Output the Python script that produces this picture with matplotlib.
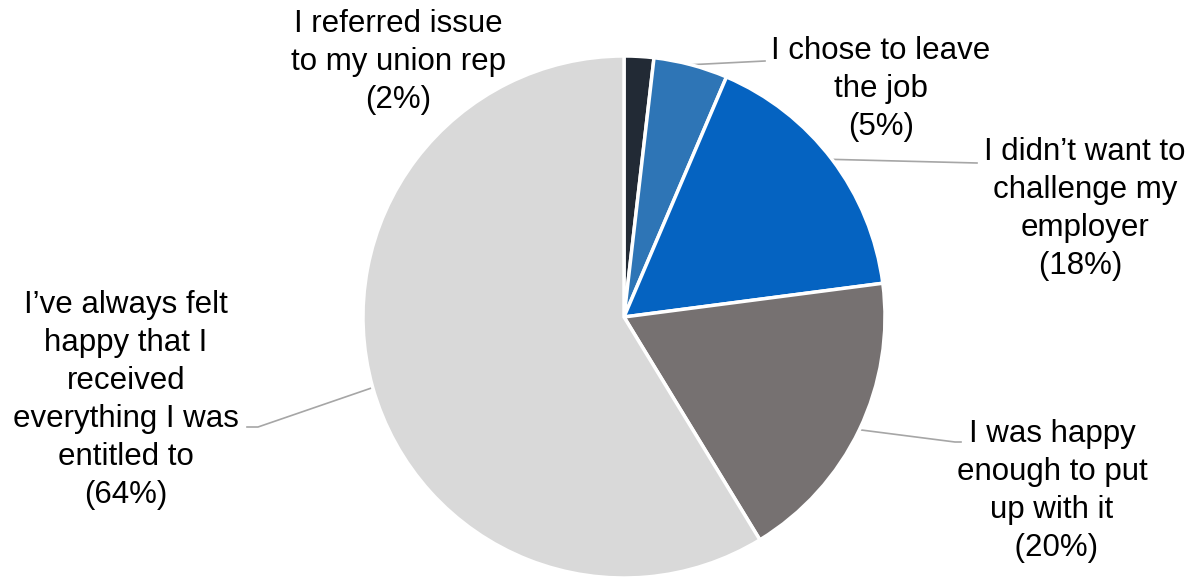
import numpy as np
import matplotlib.pyplot as plt

plt.rcParams['font.family'] = ['Liberation Sans', 'DejaVu Sans']

labels = ["I referred issue\nto my union rep",
          "I chose to leave\nthe job",
          "I didn\u2019t want to\nchallenge my\nemployer",
          "I was happy\nenough to put\nup with it",
          "I\u2019ve always felt\nhappy that I\nreceived\neverything I was\nentitled to"]
values = [2, 5, 18, 20, 64]
pct_text = ["(2%)", "(5%)", "(18%) ", " (20%)", "(64%)"]
colors = ["#222A35", "#2E75B6", "#0563C1", "#767171", "#D9D9D9"]

# layout in pixels: figure size, pie centre and radius
W, H = 1196, 577
cx, cy, R = 624, 317, 261
# label block centres (pixels from top-left)
label_pos = [(398, 62), (881, 89), (1085, 209), (1052, 491), (126, 400)]
# where each leader line meets its label (None = no leader)
leader_end = [None, [(765, 61)], [(977, 163)], [(955, 442), (961, 442)],
              [(258, 427), (247, 427)]]


def px(x, y):
    return (x - cx) / R, (cy - y) / R


fig = plt.figure(figsize=(W / 100, H / 100), dpi=100)
ax = fig.add_axes([0, 0, 1, 1])

wedges, _ = ax.pie(values, colors=colors, startangle=90, counterclock=False,
                   radius=1, wedgeprops=dict(edgecolor='white', linewidth=2.5))
ax.set_xlim(-cx / R, (W - cx) / R)
ax.set_ylim(-(H - cy) / R, cy / R)
ax.set_aspect('equal')
ax.axis('off')

for i, w in enumerate(wedges):
    x, y = px(*label_pos[i])
    ax.text(x, y, labels[i] + "\n" + pct_text[i], ha='center', va='center',
            fontsize=22.5, linespacing=1.35, color='black')
    if leader_end[i] is not None:
        ang = np.deg2rad((w.theta1 + w.theta2) / 2)
        pts = [(np.cos(ang), np.sin(ang))] + [px(*p) for p in leader_end[i]]
        xs, ys = zip(*pts)
        ax.plot(xs, ys, color='#A6A6A6', lw=1.2, zorder=0.5)

fig.savefig('out.png', dpi=100)
